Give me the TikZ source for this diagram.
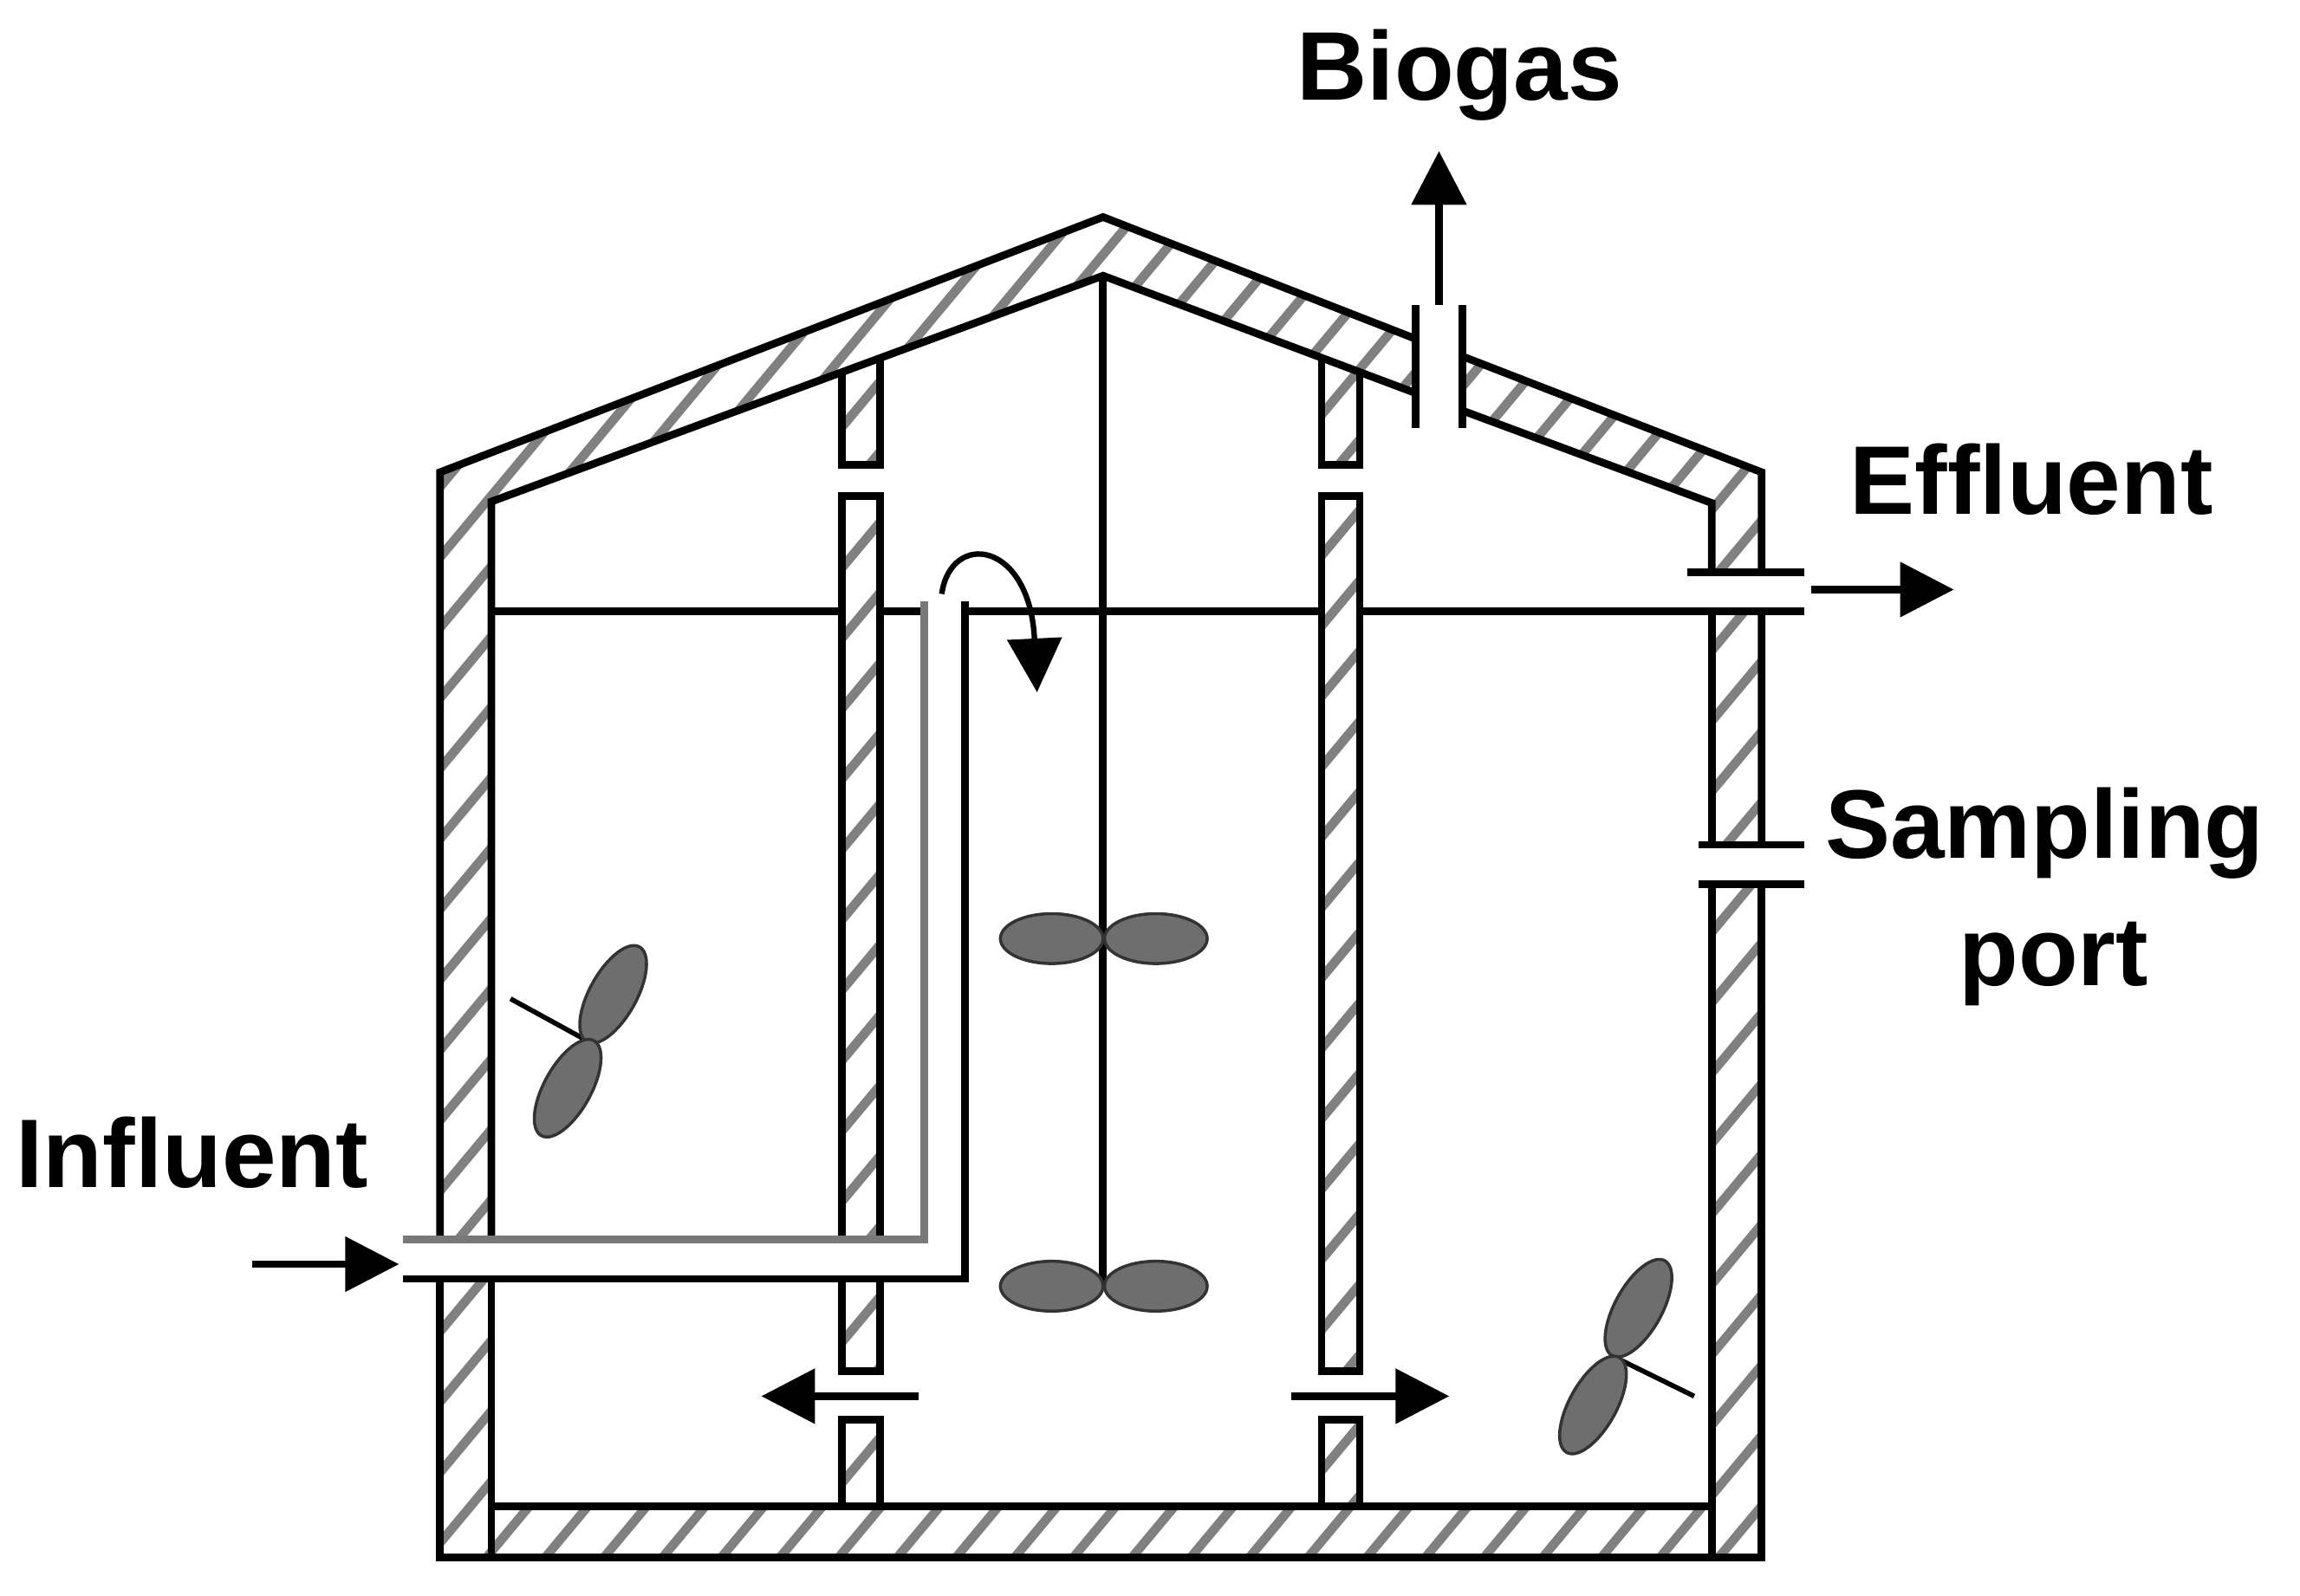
\documentclass[tikz,border=0pt]{standalone}
\usepackage{fontspec}
\setmainfont{Liberation Sans}
\usepackage{tikz}
\usepackage{xcolor}
\usetikzlibrary{arrows.meta,shapes.geometric}
\definecolor{hatchgray}{RGB}{128,128,128}
\definecolor{bladegray}{RGB}{110,110,110}
\definecolor{pipegray}{RGB}{120,120,120}
\tikzset{
	wallline/.style={line width=2.5pt},
	hatchline/.style={draw=hatchgray, line width=3pt},
	flowarrow/.style={line width=2.4pt, -{Triangle[length=.62cm,width=.62cm]}},
	blade/.style={draw=black!80, line width=1pt, fill=bladegray},
	label/.style={font=\fontsize{32}{36}\selectfont\bfseries, inner sep=0pt, align=center}
}
\newcommand{\wallpath}{
	(300,1062) -- (300,322) -- (752,148) -- (1201,322) -- (1201,1062) -- cycle
	(335,1027) -- (335,342) -- (752,188) -- (1167,343) -- (1167,1027) -- cycle
	(574,254) -- (600,244) -- (600,1027) -- (574,1027) -- cycle
	(901,244) -- (927,254) -- (927,1027) -- (901,1027) -- cycle
}
\newcommand{\sideblade}[2]{\draw[blade, rotate around={61:(#1,#2)}] (#1,#2) ellipse [x radius=37, y radius=16];}
\begin{document}
\begin{tikzpicture}[x=0.016926cm, y=-0.016926cm]
	\useasboundingbox (0,0) rectangle (1568,1088);
	% liquid level and shaft
	\draw[wallline] (335,417) -- (630,417) (658,417) -- (1230,417);
	\draw[wallline] (752,188) -- (752,877);
	% hatched walls
	\begin{scope}[even odd rule]
		\fill[white] \wallpath;
		\clip \wallpath;
		\foreach \k in {-900,-860,...,1300}
			\draw[hatchline] (\k,1100) -- ++(875,-1050);
	\end{scope}
	\fill[white] (290,846) rectangle (658,871);
	\fill[white] (631,400) rectangle (657,871);
	\fill[white] (966,200) rectangle (996,300);
	\fill[white] (1160,391) rectangle (1210,416);
	\fill[white] (1160,577) rectangle (1210,602);
	\foreach \bx in {570,897} {
		\fill[white] (\bx,319) rectangle ++(34,18);
		\fill[white] (\bx,937) rectangle ++(34,30);
	}
	\draw[wallline] (1150,417) -- (1230,417);
	% outer shell
	\draw[wallline] (300,872) -- (300,1062) -- (1201,1062) -- (1201,603);
	\draw[wallline] (1201,576) -- (1201,417) (1201,390) -- (1201,322) -- (997,243);
	\draw[wallline] (965,231) -- (752,148) -- (300,322) -- (300,845);
	% inner shell
	\draw[wallline] (335,872) -- (335,1062);
	\draw[wallline] (335,845) -- (335,342) -- (752,188) -- (965,268);
	\draw[wallline] (997,280) -- (1167,343) -- (1167,390);
	\draw[wallline] (1167,417) -- (1167,576) (1167,603) -- (1167,1062);
	\draw[wallline] (335,1027) -- (1167,1027);
	% baffles
	\foreach \bx in {574,901} {
		\draw[wallline] (\bx,968) rectangle ++(26,59);
	}
	\draw[wallline] (574,254) -- (574,317) -- (600,317) -- (600,244);
	\draw[wallline] (901,244) -- (901,317) -- (927,317) -- (927,254);
	\draw[wallline] (574,845) -- (574,338) -- (600,338) -- (600,845);
	\draw[wallline] (574,872) -- (574,935) -- (600,935) -- (600,872);
	\draw[wallline] (901,338) rectangle (927,935);
	% feed pipe
	\draw[wallline, draw=pipegray] (275,845) -- (630,845) -- (630,410);
	\draw[wallline] (275,872) -- (658,872) -- (658,410);
	% ports
	\draw[wallline] (1150,390) -- (1230,390);
	\draw[wallline] (1158,576) -- (1230,576) (1158,603) -- (1230,603);
	\draw[wallline] (965,208) -- (965,292) (997,208) -- (997,292);
	% impellers
	\foreach \iy in {640,877} {
		\draw[blade] (717,\iy) ellipse [x radius=35, y radius=17];
		\draw[blade] (788,\iy) ellipse [x radius=35, y radius=17];
	}
	\draw[line width=1.6pt] (401,710) -- (348,681);
	\sideblade{418}{678}
	\sideblade{387}{742}
	\draw[line width=1.6pt] (1100,925) -- (1155,952);
	\sideblade{1117}{892}
	\sideblade{1086}{958}
	% arrows
	\coordinate (biogasin) at (981,208);
	\coordinate (biogasout) at (981,103);
	\coordinate (effin) at (1235,402);
	\coordinate (effout) at (1332,402);
	\coordinate (inflin) at (172,862);
	\coordinate (inflout) at (272,862);
	\coordinate (leftin) at (626,952);
	\coordinate (leftout) at (519,952);
	\coordinate (rightin) at (880,952);
	\coordinate (rightout) at (988,952);
	\coordinate (overin) at (642,405);
	\coordinate (overout) at (707,472);
	\draw[flowarrow] (biogasin) -- (biogasout);
	\draw[flowarrow] (effin) -- (effout);
	\draw[flowarrow] (inflin) -- (inflout);
	\draw[flowarrow] (leftin) -- (leftout);
	\draw[flowarrow] (rightin) -- (rightout);
	\draw[line width=1.8pt, -{Triangle[length=.62cm,width=.62cm]}] (overin) .. controls (648,362) and (702,368) .. (overout);
	% labels
	\node[label] (biogas) at (995,51) {Biogas};
	\node[label] (effluent) at (1385,327) {Effluent};
	\node[label] (sampling) at (1394,568) {Sampling};
	\node[label] (port) at (1400,657) {port};
	\node[label] (influent) at (131,786) {Influent};
\end{tikzpicture}
\end{document}
